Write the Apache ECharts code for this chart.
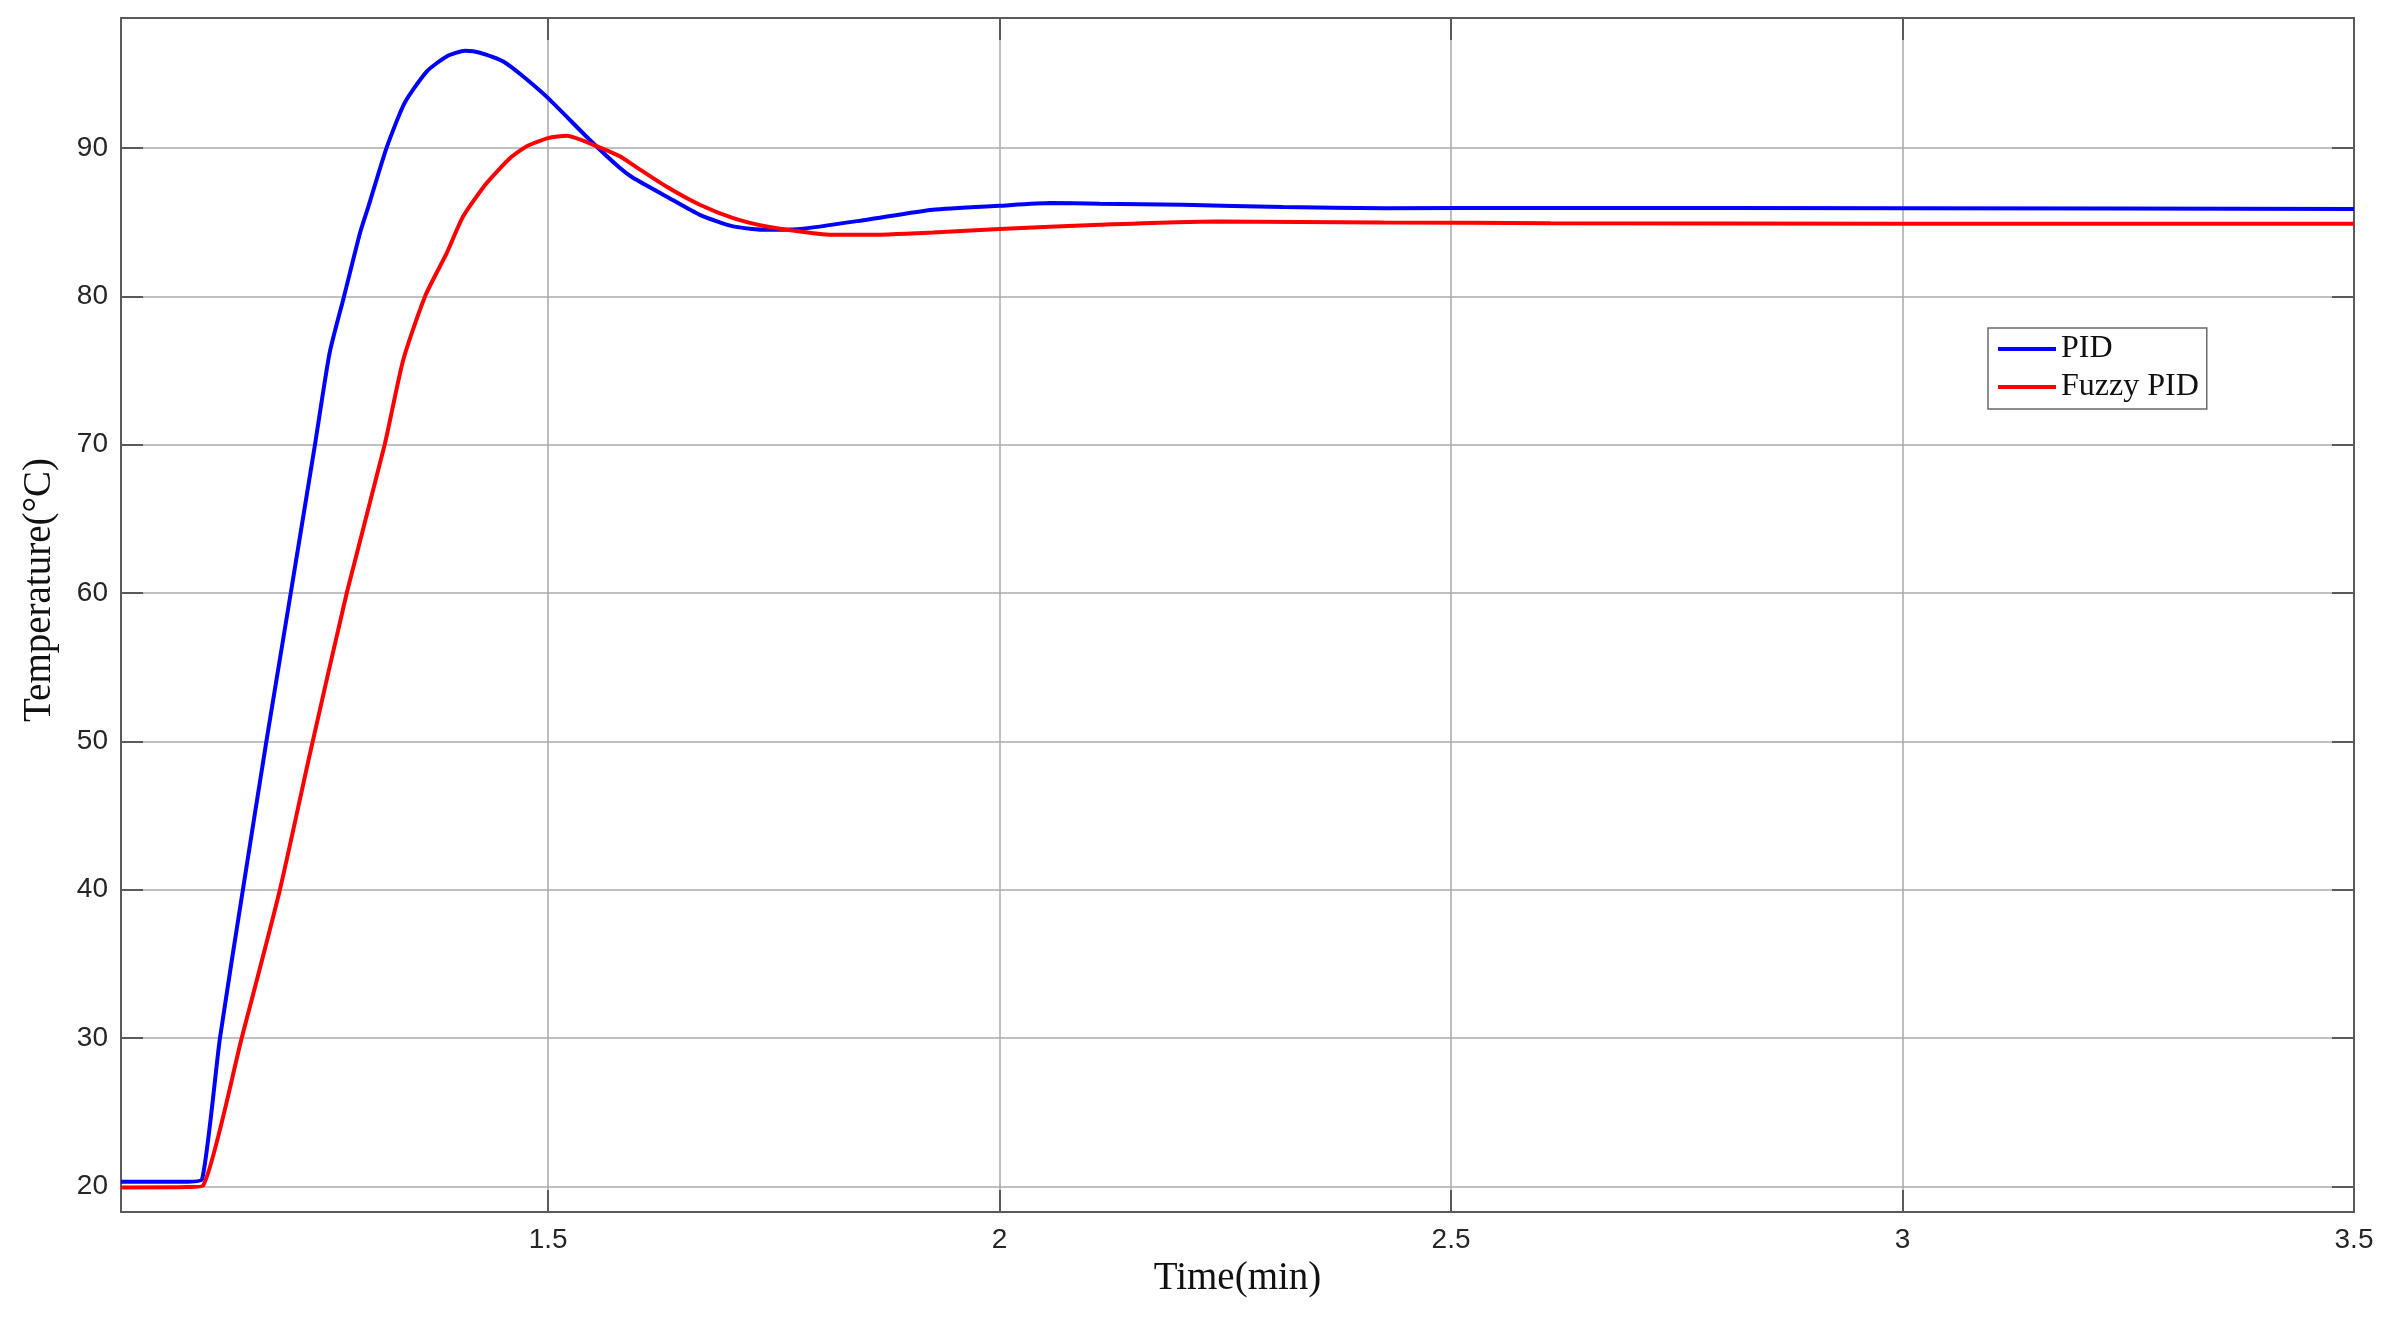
<!DOCTYPE html>
<html>
<head>
<meta charset="utf-8">
<script src="https://cdn.jsdelivr.net/npm/echarts@6/dist/echarts.min.js"></script>
<style>
  html, body { margin: 0; padding: 0; background: #ffffff; }
  #chart { width: 2395px; height: 1320px; }
</style>
</head>
<body>
<div id="chart"></div>
<script>
// time axis (min) and temperature (°C)
const pidTime = [1.027, 1.101, 1.117, 1.1366, 1.162, 1.188, 1.215, 1.2418, 1.258, 1.274, 1.2917, 1.301, 1.321, 1.341, 1.3655, 1.3877, 1.408, 1.417, 1.432, 1.4504, 1.4725, 1.5, 1.546, 1.5796, 1.594, 1.631, 1.668, 1.705, 1.742, 1.779, 1.853, 1.926, 2.0, 2.056, 2.111, 2.203, 2.314, 2.425, 2.61, 3.0, 3.5];
const pidTemp = [20.31, 20.31, 20.5, 30, 40, 50, 60, 70, 76.18, 80, 84.27, 86.06, 90, 93.03, 95.16, 96.18, 96.56, 96.53, 96.29, 95.84, 94.83, 93.37, 90.56, 88.65, 88.0, 86.74, 85.5, 84.72, 84.49, 84.54, 85.17, 85.84, 86.11, 86.29, 86.25, 86.18, 86.02, 85.95, 85.96, 85.95, 85.9];

const fuzzyTime = [1.027, 1.101, 1.118, 1.1607, 1.203, 1.236, 1.277, 1.319, 1.3396, 1.3637, 1.3877, 1.406, 1.432, 1.458, 1.476, 1.5, 1.5206, 1.55, 1.5796, 1.594, 1.631, 1.668, 1.705, 1.742, 1.779, 1.816, 1.853, 1.926, 2.0, 2.111, 2.24, 2.425, 2.61, 3.0, 3.5];
const fuzzyTemp = [19.93, 19.95, 20.06, 30, 40, 49.1, 60, 70, 75.73, 80, 82.92, 85.4, 87.64, 89.33, 90.11, 90.67, 90.83, 90.22, 89.44, 88.87, 87.41, 86.18, 85.28, 84.71, 84.38, 84.15, 84.15, 84.31, 84.54, 84.83, 85.05, 84.98, 84.94, 84.9, 84.89];

const xTicks = [1.5, 2, 2.5, 3, 3.5];
const yTicks = [20, 30, 40, 50, 60, 70, 80, 90];
const seriesNames = ['PID', 'Fuzzy PID'];

const xMin = 1.027, xMax = 3.5;
const yMin = 18.27, yMax = 98.77;

const pidData = pidTime.map((t, i) => [t, pidTemp[i]]);
const fuzzyData = fuzzyTime.map((t, i) => [t, fuzzyTemp[i]]);

const tickStyle = {show: true, inside: true, length: 22, lineStyle: {color: '#5a5a5a', width: 2}};
const boxLine = {show: true, onZero: false, lineStyle: {color: '#5a5a5a', width: 2}};

var myChart = echarts.init(document.getElementById('chart'), null, {renderer: 'canvas'});

const option = {
  animation: false,
  backgroundColor: '#ffffff',
  grid: {left: 121, right: 41, top: 18, bottom: 108, containLabel: false, outerBoundsMode: 'none'},
  legend: {
    data: seriesNames,
    orient: 'vertical',
    left: 1988,
    top: 328,
    padding: [5, 8, 6, 8],
    itemGap: 6,
    itemWidth: 58,
    itemHeight: 14,
    borderColor: '#6a6a6a',
    borderWidth: 1.5,
    backgroundColor: '#ffffff',
    itemStyle: {opacity: 0},
    lineStyle: {width: 4},
    textStyle: {fontFamily: 'Liberation Serif', fontSize: 32, color: '#111111', lineHeight: 32}
  },
  xAxis: [
    {
      type: 'value', min: xMin, max: xMax,
      name: 'Time(min)', nameLocation: 'middle', nameGap: 40,
      nameTextStyle: {fontFamily: 'Liberation Serif', fontSize: 39, color: '#111111'},
      axisLine: boxLine,
      axisTick: Object.assign({customValues: xTicks}, tickStyle),
      axisLabel: {customValues: xTicks, margin: 14, fontFamily: 'Liberation Sans', fontSize: 28, color: '#262626'},
      splitLine: {show: true, lineStyle: {color: '#a8a8a8', width: 1.5}}
    },
    {
      type: 'value', min: xMin, max: xMax, position: 'top',
      axisLine: boxLine,
      axisTick: Object.assign({customValues: xTicks}, tickStyle),
      axisLabel: {show: false},
      splitLine: {show: false}
    }
  ],
  yAxis: [
    {
      type: 'value', min: yMin, max: yMax,
      name: 'Temperature(°C)', nameLocation: 'middle', nameGap: 62,
      nameTextStyle: {fontFamily: 'Liberation Serif', fontSize: 39, color: '#111111', padding: [0, 0, 0, 50]},
      axisLine: boxLine,
      axisTick: Object.assign({customValues: yTicks}, tickStyle),
      axisLabel: {customValues: yTicks, margin: 13, fontFamily: 'Liberation Sans', fontSize: 28, color: '#262626'},
      splitLine: {show: true, lineStyle: {color: '#c0c0c0', width: 2}}
    },
    {
      type: 'value', min: yMin, max: yMax, position: 'right',
      axisLine: boxLine,
      axisTick: Object.assign({customValues: yTicks}, tickStyle),
      axisLabel: {show: false},
      splitLine: {show: false}
    }
  ],
  series: [
    {
      name: seriesNames[0], type: 'line', data: pidData,
      symbol: 'none', showSymbol: false,
      smooth: 0.2,
      lineStyle: {color: '#0000ff', width: 4},
      itemStyle: {color: '#0000ff'},
      z: 3
    },
    {
      name: seriesNames[1], type: 'line', data: fuzzyData,
      symbol: 'none', showSymbol: false,
      smooth: 0.2,
      lineStyle: {color: '#ff0000', width: 4},
      itemStyle: {color: '#ff0000'},
      z: 4
    }
  ]
};

myChart.setOption(option);
</script>
</body>
</html>
